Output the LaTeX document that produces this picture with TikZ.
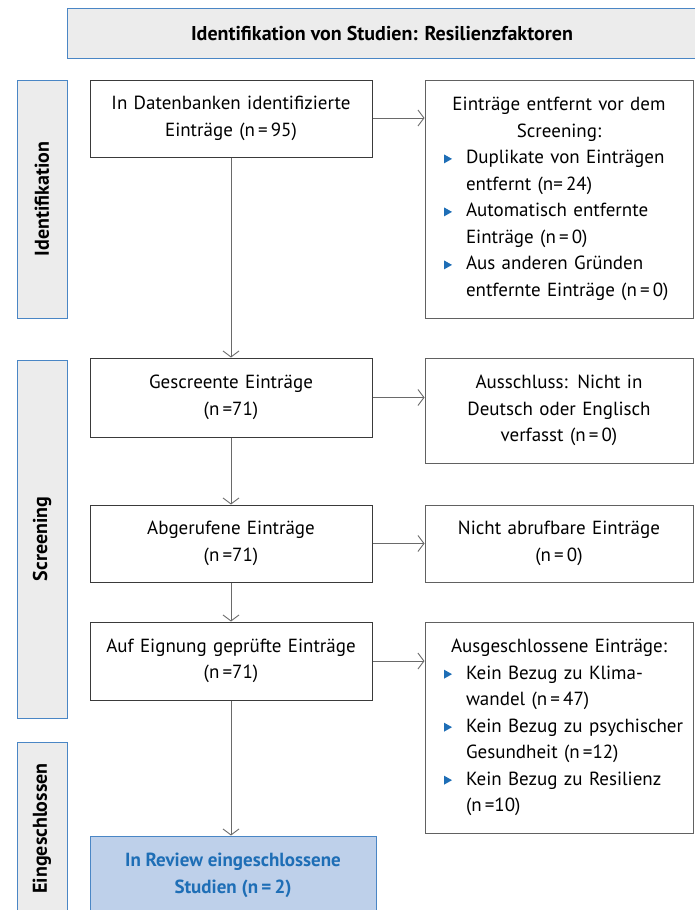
\documentclass[tikz,border=0pt]{standalone}
\usepackage{fontspec}
\setmainfont{PT Sans}
\usepackage{enumitem}
\usetikzlibrary{positioning,arrows.meta}

\definecolor{framegray}{HTML}{3A3A3A}
\definecolor{linegray}{HTML}{6A6A6A}
\definecolor{phaseblue}{HTML}{4A86C5}
\definecolor{phasefill}{HTML}{ECECEC}
\definecolor{inclfill}{HTML}{BED0EA}
\definecolor{incltext}{HTML}{1E6EB6}

\newcommand{\bulmark}{\tikz[baseline=-0.5pt]\fill[incltext] (0,0)--(0,9pt)--(8pt,4.5pt)--cycle;}
\newenvironment{pointlist}{\par\raggedright\begin{itemize}[label=\bulmark,leftmargin=32pt,labelwidth=8pt,labelsep=14pt,align=left,nosep]}{\end{itemize}}
\newcommand{\boxfont}{\fontsize{19}{26.5}\selectfont}

\tikzset{
    stepbox/.style={draw=framegray, line width=1pt, align=center, inner sep=0pt, text width=#1},
    stepbox/.default=270pt,
    sidebox/.style={draw=framegray!80, line width=1pt, align=center, inner sep=0pt, text width=#1},
    sidebox/.default=250pt,
    phase/.style={draw=phaseblue, fill=phasefill, line width=1pt, font=\fontsize{20}{24}\selectfont\bfseries, inner sep=0pt},
    arr/.style={draw=linegray, line width=0.9pt, -{Straight Barb[length=6pt,width=16pt]}}
}

\begin{document}
\begin{tikzpicture}[x=1pt,y=-1pt,font=\boxfont]
                \useasboundingbox (0,0) rectangle (695,910);
                %Phases
                \node[phase, minimum width=630pt, minimum height=50pt] at (382,33) (title) {Identifikation von Studien: Resilienzfaktoren};
                \node[phase, minimum width=50pt, minimum height=238pt] at (42,199) (pid) {\rotatebox{90}{Identifikation}};
                \node[phase, minimum width=50pt, minimum height=358pt] at (42,539) (pscr) {\rotatebox{90}{Screening}};
                \node[phase, minimum width=50pt, minimum height=173pt] at (42,828.5) (pinc) {\rotatebox{90}{Eingeschlossen}};

                %Main column
                \node[stepbox, minimum width=282pt, minimum height=77pt] at (231,118.5) (db)  {In Datenbanken identifizierte\\Einträge (n\,=\,95)};
                \node[stepbox, minimum width=282pt, minimum height=79pt] at (231,397.5) (scr) {Gescreente Einträge\\(n\,=71)};
                \node[stepbox, minimum width=282pt, minimum height=77pt] at (231,543.5) (abg) {Abgerufene Einträge\\(n\,=71)};
                \node[stepbox, minimum width=282pt, minimum height=78pt] at (231,661)   (eig) {Auf Eignung geprüfte Einträge\\(n\,=71)};
                \node[draw=phaseblue, fill=inclfill, line width=1pt, align=center, text=incltext, font=\boxfont\bfseries,
                      minimum width=286pt, minimum height=79pt, inner sep=0pt] at (233,875.5) (inc) {In Review eingeschlossene\\Studien (n\,=\,2)};

                %Side column
                \node[sidebox, minimum width=268pt, minimum height=238pt] at (559,199) (rem) {Einträge entfernt vor dem\\Screening:
                    \begin{pointlist}
                    \item Duplikate von Einträgen\\entfernt (n=\,24)
                    \item Automatisch entfernte\\Einträge (n\,=\,0)
                    \item Aus anderen Gründen\\entfernte Einträge (n\,=\,0)
                    \end{pointlist}};
                \node[sidebox, minimum width=268pt, minimum height=105pt] at (559,410.5) (lang) {Ausschluss: Nicht in\\Deutsch oder Englisch\\verfasst (n\,=\,0)};
                \node[sidebox, minimum width=268pt, minimum height=77pt] at (559,543.5) (nabr) {Nicht abrufbare Einträge\\(n\,=\,0)};
                \node[sidebox, minimum width=268pt, minimum height=211pt] at (559,727.5) (aus) {Ausgeschlossene Einträge:
                    \begin{pointlist}
                    \item Kein Bezug zu Klima-\\wandel (n\,=\,47)
                    \item Kein Bezug zu psychischer\\Gesundheit (n\,=12)
                    \item Kein Bezug zu Resilienz\\(n\,=10)
                    \end{pointlist}};

                %Lines
                \draw[arr] (db) -- (scr);
                \draw[arr] (scr) -- (abg);
                \draw[arr] (abg) -- (eig);
                \draw[arr] (eig) -- (inc.north -| eig.south);
                \draw[arr] (db.east |- 0,118) -- (rem.west |- 0,118);
                \draw[arr] (scr) -- (scr -| lang.west);
                \draw[arr] (abg) -- (nabr);
                \draw[arr] (eig) -- (eig -| aus.west);
            \end{tikzpicture}
\end{document}
